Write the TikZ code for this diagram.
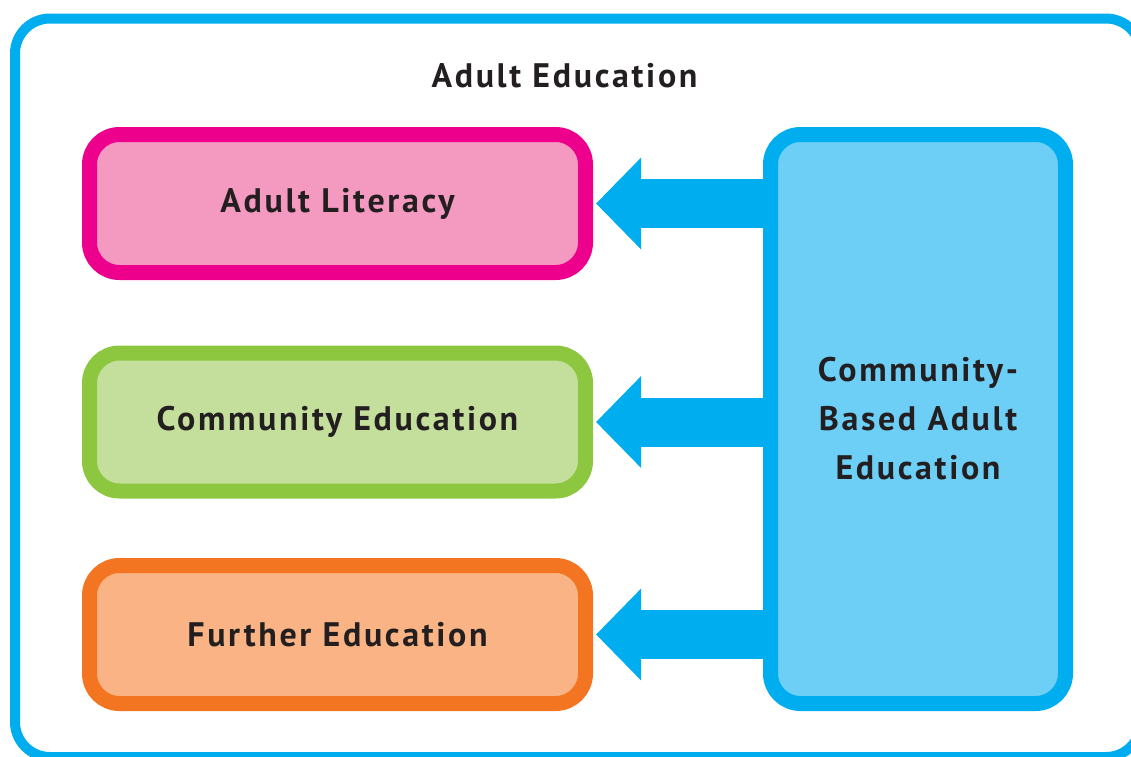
\documentclass[tikz,border=0pt]{standalone}
\usepackage{fontspec}
\setmainfont{PT Sans}
\newfontfamily\eduFont[LetterSpace=7.8]{PT Sans}
\usetikzlibrary{arrows.meta}

\definecolor{framecyan}{HTML}{00AEEF}
\definecolor{cbaefill}{HTML}{6DCFF6}
\definecolor{litline}{HTML}{EC008C}
\definecolor{litfill}{HTML}{F49AC1}
\definecolor{comline}{HTML}{8DC63F}
\definecolor{comfill}{HTML}{C4DF9B}
\definecolor{furline}{HTML}{F47521}
\definecolor{furfill}{HTML}{F9B384}
\definecolor{txt}{HTML}{231F20}

\tikzset{
  eduBox/.style={rectangle, rounded corners=30pt, line width=15pt, minimum width=496pt, minimum height=138pt, inner sep=0pt, text=txt, font=\eduFont\bfseries\fontsize{34}{40}\selectfont},
  bigArrow/.style={draw=framecyan, line width=49pt, -{Triangle[length=45pt,width=89pt]}}
}

\begin{document}
\begin{tikzpicture}[x=1pt,y=1pt,yscale=-1,xscale=1]
\useasboundingbox (0,0) rectangle (1131,756);

%Shape: Rounded Rect [frame]
\draw [framecyan, line width=10pt, rounded corners=35pt] (15,18.5) rectangle (1141,757);

% Text Node
\node (title) [anchor=base, text=txt, font=\eduFont\bfseries\fontsize{34}{40}\selectfont] at (564.5,87) {Adult Education};

%Shape: Rounded Rect [left column]
\node (lit) [eduBox, draw=litline, fill=litfill] at (337.5,203.5) {Adult Literacy};
\node (com) [eduBox, draw=comline, fill=comfill] at (337.5,422) {Community Education};
\node (fur) [eduBox, draw=furline, fill=furfill] at (337.5,634.5) {Further Education};

%Shape: Rounded Rect [right column]
\node (cbae) [eduBox, draw=framecyan, fill=cbaefill, minimum width=295pt, minimum height=569pt, align=center, font=\eduFont\bfseries\fontsize{34}{49}\selectfont] at (918,419) {Community-\\Based Adult\\Education};

%Block Arrows
\draw [bigArrow] (lit.east -| cbae.west) -- ([xshift=3pt]lit.east);
\draw [bigArrow] (com.east -| cbae.west) -- ([xshift=3pt]com.east);
\draw [bigArrow] (fur.east -| cbae.west) -- ([xshift=3pt]fur.east);
\end{tikzpicture}
\end{document}
